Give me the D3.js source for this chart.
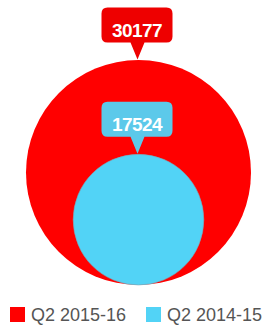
<!DOCTYPE html>
<html>
<head>
<meta charset="utf-8">
<script src="https://cdn.jsdelivr.net/npm/d3@7"></script>
<style>
  html, body { margin: 0; padding: 0; background: #fff; }
  svg { display: block; }
</style>
</head>
<body>
<div id="chart"></div>
<script>
const series = ['Q2 2015-16', 'Q2 2014-15'];
const values = [30177, 17524];
const colors = ['#ff0000', '#52d3f6'];
const labelColors = ['#ee0000', '#5cc9ea'];

const width = 267, height = 325;
const cx = 138.5, baseY = 285;   // circles share a bottom point

const svg = d3.select('#chart').append('svg')
    .attr('width', width)
    .attr('height', height);

// radius is linear in value (as in the reference)
const r = d3.scaleLinear()
    .domain([0, d3.max(values)])
    .range([0, 112.5]);

const data = series.map((s, i) => ({ name: s, value: values[i], color: colors[i], label: labelColors[i] }));

svg.append('g').selectAll('circle')
    .data(data)
    .enter().append('circle')
    .attr('cx', cx)
    .attr('cy', d => baseY - r(d.value))
    .attr('r', d => r(d.value))
    .attr('fill', d => d.color)
    .attr('stroke', (d, i) => i ? '#7aa9b8' : 'none')
    .attr('stroke-width', 0.6);

// callout box with a pointer down to the top of each circle
function callout(tipY) {
    const w = 71, h = 35, rr = 6, ph = 17, pw = 7;
    const x0 = cx - 1.5 - w / 2, y1 = tipY - ph, y0 = y1 - h, x1 = x0 + w;
    const px = cx - 1;
    return `M${x0 + rr},${y0} H${x1 - rr} Q${x1},${y0} ${x1},${y0 + rr} V${y1 - rr} Q${x1},${y1} ${x1 - rr},${y1}` +
        ` H${px + pw} L${px},${tipY} L${px - pw},${y1} H${x0 + rr} Q${x0},${y1} ${x0},${y1 - rr} V${y0 + rr} Q${x0},${y0} ${x0 + rr},${y0} Z`;
}

const labels = svg.append('g').selectAll('g')
    .data(data)
    .enter().append('g');

labels.append('path')
    .attr('d', d => callout(baseY - 2 * r(d.value) - 0.5))
    .attr('fill', d => d.label);

labels.append('text')
    .attr('x', cx - 1.5)
    .attr('y', d => baseY - 2 * r(d.value) - 23)
    .attr('text-anchor', 'middle')
    .attr('fill', '#fff')
    .style('font-family', 'Liberation Sans, Arial, sans-serif')
    .style('font-size', '19px')
    .style('font-weight', 'bold')
    .style('letter-spacing', '-0.6px')
    .text(d => d.value);

// legend
const legendX = [10, 146];
const legend = svg.append('g').selectAll('g')
    .data(data)
    .enter().append('g')
    .attr('transform', (d, i) => `translate(${legendX[i]},307)`);

legend.append('rect')
    .attr('width', 15)
    .attr('height', 15)
    .attr('fill', d => d.color);

legend.append('text')
    .attr('x', 21)
    .attr('y', 14)
    .attr('fill', '#555')
    .style('font-family', 'Liberation Sans, Arial, sans-serif')
    .style('font-size', '18px')
    .text(d => d.name);
</script>
</body>
</html>
